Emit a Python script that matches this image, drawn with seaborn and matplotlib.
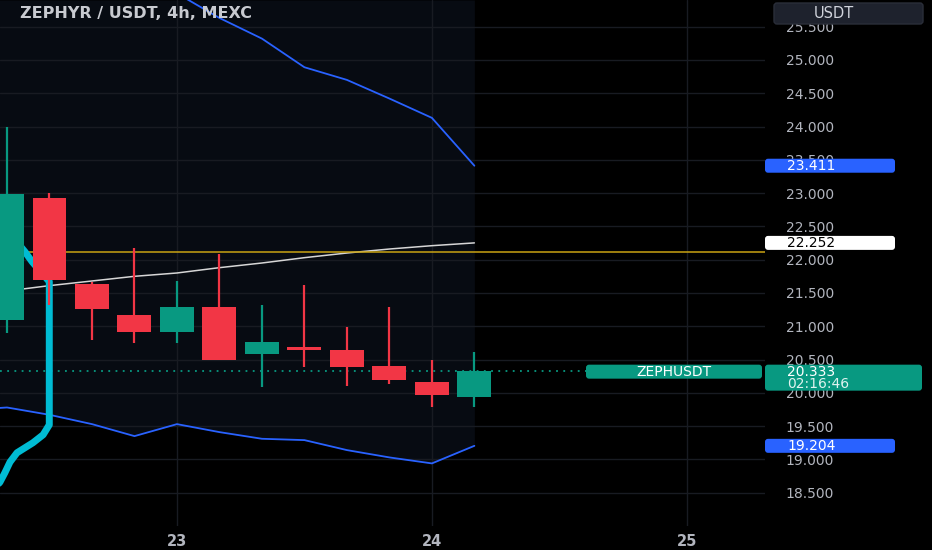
import numpy as np
import seaborn as sns
import matplotlib.pyplot as plt
from matplotlib.patches import FancyBboxPatch

# 4h candles, bar index 0..11
opens = [21.09, 22.93, 21.64, 21.17, 20.92, 21.29, 20.58, 20.69, 20.65, 20.41, 20.16, 19.93]
highs = [23.99, 23.00, 21.67, 22.18, 21.68, 22.09, 21.32, 21.62, 20.99, 21.29, 20.49, 20.62]
lows = [20.90, 21.32, 20.79, 20.75, 20.75, 20.49, 20.09, 20.39, 20.10, 20.14, 19.79, 19.79]
closes = [22.99, 21.69, 21.26, 20.92, 21.29, 20.49, 20.77, 20.65, 20.39, 20.19, 19.97, 20.333]

# envelope bands, bar index -1..11
band_x = [-1, 0, 1, 2, 3, 4, 5, 6, 7, 8, 9, 10, 11]
upper = [27.2, 27.0, 26.9, 26.7, 26.4, 26.0, 25.63, 25.32, 24.89, 24.70, 24.42, 24.13, 23.411]
lower = [19.74, 19.78, 19.67, 19.53, 19.35, 19.53, 19.41, 19.31, 19.29, 19.14, 19.03, 18.94, 19.204]

# moving average (white) and horizontal level (yellow)
ma = [21.53, 21.61, 21.68, 21.75, 21.80, 21.88, 21.95, 22.03, 22.10, 22.16, 22.21, 22.252]
level = 22.11

# cyan indicator path
cyan_x = [-0.40, -0.165, -0.05, 0.07, 0.235, 0.61, 0.85, 0.995, 0.995, 0.995, 0.59, 0.42, 0.25]
cyan_y = [18.47, 18.66, 18.80, 18.96, 19.10, 19.25, 19.37, 19.52, 19.70, 21.67, 21.97, 22.12, 22.25]

day_pos = [4, 10, 16]
day_labels = ["23", "24", "25"]
price_ticks = [18.5, 19.0, 19.5, 20.0, 20.5, 21.0, 21.5, 22.0, 22.5, 23.0, 23.5, 24.0, 24.5, 25.0, 25.5]

GREEN = "#089981"
RED = "#f23645"
BLUE = "#2962ff"
GREY = "#b2b5be"

sns.set_theme(style="dark")
plt.rcParams['font.family'] = ['DejaVu Sans']

fig = plt.figure(figsize=(9.32, 5.5), dpi=100, facecolor="black")
ax = fig.add_axes([0, 24 / 550, 765 / 932, 526 / 550])
ax.set_facecolor("black")
ax.set_xlim(-0.165, 17.84)
ax.set_ylim(18.0, 25.9)

# shaded zone between lower band and top
ax.fill_between(band_x, lower, 25.9, color="#070b12", lw=0, zorder=0.2)

# band lines + MA
sns.lineplot(x=band_x, y=upper, ax=ax, color=BLUE, lw=1.3, zorder=2)
sns.lineplot(x=band_x, y=lower, ax=ax, color=BLUE, lw=1.3, zorder=2)
sns.lineplot(x=list(range(len(ma))), y=ma, ax=ax, color="#d6d6d6", lw=1.1, zorder=2.2)

ax.axhline(level, color="#c9a313", lw=1.1, zorder=2.6)
ax.axhline(closes[-1], xmin=0, xmax=586 / 765, color=GREEN, lw=1.3, ls=(0, (1, 3)), zorder=2.5)

ax.plot(cyan_x, cyan_y, color="#00bcd4", lw=5, solid_capstyle="round",
        solid_joinstyle="round", zorder=3)

# candles
idx = np.arange(len(opens))
o = np.array(opens)
c = np.array(closes)
cols = [GREEN if cc >= oo else RED for oo, cc in zip(opens, closes)]
ax.vlines(idx, lows, highs, colors=cols, lw=1.6, zorder=3.9)
ax.bar(idx, np.maximum(np.abs(c - o), 0.035), bottom=np.minimum(o, c), width=0.8,
       color=cols, lw=0, zorder=4)

# axes styling
ax.grid(True, color="#181b22", lw=1)
ax.set_axisbelow(True)
for s in ax.spines.values():
    s.set_visible(False)
ax.set_xticks(day_pos, day_labels)
ax.yaxis.tick_right()
ax.set_yticks(price_ticks, ["%.3f" % p for p in price_ticks])
ax.tick_params(axis="y", length=0, pad=15, labelsize=10, colors=GREY)
ax.tick_params(axis="x", length=0, pad=6, labelsize=10.5, colors=GREY)
for t in ax.get_xticklabels():
    t.set_fontweight("bold")
ax.set_xlabel("")
ax.set_ylabel("")

# overlay in pixel coordinates for labels and badges
ov = fig.add_axes([0, 0, 1, 1], facecolor="none")
ov.set_xlim(0, 932)
ov.set_ylim(550, 0)
ov.axis("off")


def py(price):
    return 550 - ax.transData.transform((0, price))[1]


def badge(x0, x1, top, h, fc, ec="none"):
    ov.add_patch(FancyBboxPatch((x0, top), x1 - x0, h,
                                boxstyle="round,pad=0,rounding_size=3",
                                fc=fc, ec=ec, lw=1))


ov.text(20, 14, "ZEPHYR / USDT, 4h, MEXC", fontsize=11.5, fontweight="bold",
        color="#c8cad0", va="center", ha="left")

badge(774, 923, 3, 21, "#1e222d", "#2a2e39")
ov.text(834, 13.5, "USDT", fontsize=10.5, color="#d1d4dc", ha="center", va="center")

for val, fc, tc in [(upper[-1], BLUE, "white"), (ma[-1], "white", "black"),
                    (lower[-1], BLUE, "white")]:
    y = py(val)
    badge(765, 895, y - 7, 14, fc)
    ov.text(787, y, "%.3f" % val, fontsize=10, color=tc, ha="left", va="center")

yc = py(closes[-1])
badge(765, 922, yc - 6, 26, GREEN)
ov.text(787, yc + 1, "%.3f" % closes[-1], fontsize=10, color="white", ha="left", va="center")
ov.text(787, yc + 13, "02:16:46", fontsize=10, color="#dff3ef", ha="left", va="center")
badge(586, 762, yc - 6, 14, GREEN)
ov.text(674, yc + 1, "ZEPHUSDT", fontsize=10, color="white", ha="center", va="center")

fig.savefig("out.png", dpi=100, facecolor="black")
